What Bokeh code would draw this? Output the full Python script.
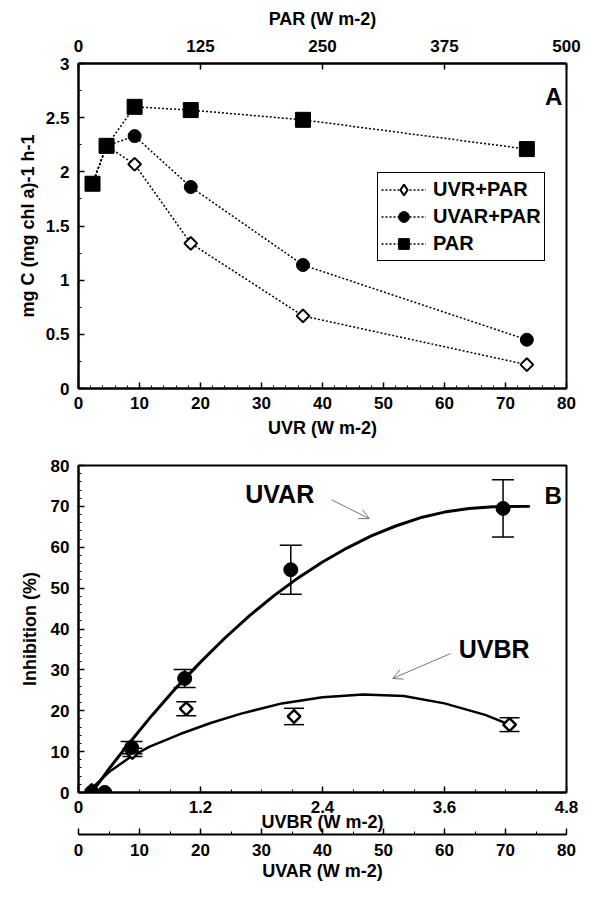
import numpy as np
from bokeh.plotting import figure
from bokeh.layouts import column
from bokeh.models import (Range1d, LinearAxis, FixedTicker, SingleIntervalTicker, Legend,
                          LegendItem, Whisker, TeeHead, ColumnDataSource, Label, Arrow, OpenHead)
from bokeh.embed import file_html
from bokeh.resources import INLINE

# ---------------- Panel A data ----------------
uvr = [2.3, 4.6, 9.2, 18.4, 36.8, 73.5]
uvr_par = [1.89, 2.24, 2.07, 1.34, 0.67, 0.22]
uvar_par = [1.89, 2.24, 2.33, 1.86, 1.14, 0.45]
par_only = [1.89, 2.24, 2.60, 2.57, 2.48, 2.21]
a_y_ticks = [0, 0.5, 1, 1.5, 2, 2.5, 3]
a_y_labels = ["0", "0.5", "1", "1.5", "2", "2.5", "3"]
a_par_ticks = [0, 125, 250, 375, 500]
a_legend = ["UVR+PAR", "UVAR+PAR", "PAR"]

# ---------------- Panel B data ----------------
uvbr_x = [0.13, 0.26, 0.53, 1.06, 2.12, 4.24]
uvbr_inhib = [0.5, 0.0, 9.8, 20.5, 18.6, 16.6]
uvbr_err = [0.0, 0.0, 1.0, 1.7, 2.0, 1.7]
uvar_x = [2.2, 4.3, 8.7, 17.4, 34.8, 69.6]
uvar_inhib = [0.0, 0.0, 11.0, 27.9, 54.5, 69.5]
uvar_err = [0.0, 0.0, 1.5, 2.2, 6.0, 7.0]
uvar_fit_x = [2.2, 5, 8, 12, 16, 20, 24, 28, 32, 36, 40, 44, 48, 52, 56, 60, 64, 68, 74]
uvar_fit_y = [0, 5.8, 11.5, 18.8, 25.6, 31.9, 37.8, 43.2, 48.1, 52.5, 56.4, 59.8, 62.8,
              65.2, 67.2, 68.6, 69.5, 69.9, 70.0]
uvbr_fit_x = [0.13, 0.3, 0.5, 0.7, 1.0, 1.3, 1.6, 2.0, 2.4, 2.8, 3.2, 3.6, 4.0, 4.24]
uvbr_fit_y = [1.0, 5.0, 8.5, 11.2, 14.3, 17.0, 19.3, 21.8, 23.3, 24.0, 23.6, 21.8, 19.0, 16.6]
b_uvbr_ticks = [0, 1.2, 2.4, 3.6, 4.8]
b_uvbr_labels = ["0", "1.2", "2.4", "3.6", "4.8"]

# annotation positions (data units of panel B: UVBR, %)
uvar_text_pos = (1.64, 73.0)
uvbr_text_pos = (3.74, 35.0)
uvar_arrow = (2.49, 71.6, 2.86, 67.0)
uvbr_arrow = (3.66, 34.0, 3.09, 27.9)
a_text_pos = (77.9, 2.70)
b_text_pos = (4.67, 72.6)

FONT = "Liberation Sans"


def style_axis(ax, label_size="17px", title_size="18px"):
    ax.axis_line_width = 2
    ax.axis_line_color = "black"
    ax.major_tick_in = 6
    ax.major_tick_out = 0
    ax.minor_tick_in = 3
    ax.minor_tick_out = 0
    ax.major_tick_line_width = 1.5
    ax.minor_tick_line_width = 1
    ax.major_tick_line_color = "black"
    ax.minor_tick_line_color = "black"
    ax.major_label_text_font = FONT
    ax.major_label_text_font_style = "bold"
    ax.major_label_text_font_size = label_size
    ax.major_label_text_color = "black"
    ax.axis_label_text_font = FONT
    ax.axis_label_text_font_style = "bold"
    ax.axis_label_text_font_size = title_size
    ax.axis_label_text_color = "black"


def style_fig(p):
    p.grid.visible = False
    p.outline_line_color = "black"
    p.outline_line_width = 2
    p.outline_line_alpha = 1
    p.background_fill_color = "white"
    p.border_fill_color = "white"


def text_label(x, y, text, size, align="left"):
    return Label(x=x, y=y, text=text, text_align=align, text_baseline="middle",
                 text_font=FONT, text_font_style="bold", text_font_size=size,
                 text_color="black")


# ================= Panel A =================
pa = figure(width=596, height=450, x_range=Range1d(0, 80), y_range=Range1d(0, 3),
            output_backend="svg", toolbar_location=None,
            min_border_left=78, min_border_right=30, min_border_top=63, min_border_bottom=62)
style_fig(pa)
pa.extra_x_ranges = {"par": Range1d(0, 500)}

xa = pa.xaxis[0]
xa.ticker = SingleIntervalTicker(interval=10, num_minor_ticks=5)
xa.axis_label = "UVR (W m-2)"
style_axis(xa)
xa.major_label_standoff = 8
xa.axis_label_standoff = 6

ya = pa.yaxis[0]
ya.ticker = SingleIntervalTicker(interval=0.5, num_minor_ticks=2)
ya.major_label_overrides = {t: l for t, l in zip(a_y_ticks, a_y_labels)}
ya.axis_label = "mg C (mg chl a)-1 h-1"
style_axis(ya)
ya.major_label_standoff = 9
ya.axis_label_standoff = 5

top = LinearAxis(x_range_name="par", ticker=FixedTicker(ticks=a_par_ticks), axis_label="PAR (W m-2)")
style_axis(top)
top.major_label_standoff = 12
top.axis_label_standoff = 8
pa.add_layout(top, "above")

r1l = pa.line(uvr, uvr_par, line_dash="2 2", line_width=1.5, color="black")
r2l = pa.line(uvr, uvar_par, line_dash="2 2", line_width=1.5, color="black")
r3l = pa.line(uvr, par_only, line_dash="2 2", line_width=1.5, color="black")
r1 = pa.scatter(uvr, uvr_par, marker="square", angle=np.pi / 4, size=9,
                fill_color="white", line_color="black", line_width=2)
r2 = pa.scatter(uvr, uvar_par, marker="circle", size=13, fill_color="black", line_color="black")
r3 = pa.scatter(uvr, par_only, marker="square", size=15, fill_color="black", line_color="black")
# legend-only proxy (no visible point) so that the legend shows a diamond
r1_leg = pa.scatter(x=np.array([np.nan]), y=np.array([np.nan]), marker="diamond", size=15,
                    fill_color="white", line_color="black", line_width=2)

legend = Legend(items=[LegendItem(label=a_legend[0], renderers=[r1l, r1_leg]),
                       LegendItem(label=a_legend[1], renderers=[r2l, r2]),
                       LegendItem(label=a_legend[2], renderers=[r3l, r3])],
                location=(299, 127))
legend.border_line_color = "black"
legend.border_line_width = 1.5
legend.border_line_alpha = 1
legend.background_fill_alpha = 1
legend.label_text_font = FONT
legend.label_text_font_style = "bold"
legend.label_text_font_size = "20px"
legend.label_text_color = "black"
legend.glyph_width = 45
legend.glyph_height = 27
legend.label_height = 20
legend.spacing = 0
legend.padding = 3
legend.margin = 0
legend.label_standoff = 7
pa.add_layout(legend)

pa.add_layout(text_label(a_text_pos[0], a_text_pos[1], "A", "24px", "center"))

# ================= Panel B =================
pb = figure(width=596, height=447, x_range=Range1d(0, 4.8), y_range=Range1d(0, 80),
            output_backend="svg", toolbar_location=None,
            min_border_left=78, min_border_right=30, min_border_top=15, min_border_bottom=105)
style_fig(pb)
pb.extra_x_ranges = {"uvar": Range1d(0, 80)}

xb = pb.xaxis[0]
xb.ticker = FixedTicker(ticks=b_uvbr_ticks, minor_ticks=list(np.arange(0, 4.81, 0.3)))
xb.major_label_overrides = {t: l for t, l in zip(b_uvbr_ticks, b_uvbr_labels)}
xb.axis_label = "UVBR (W m-2)"
style_axis(xb)
xb.major_label_standoff = 8
xb.axis_label_standoff = -4

yb = pb.yaxis[0]
yb.ticker = SingleIntervalTicker(interval=10, num_minor_ticks=5)
yb.axis_label = "Inhibition (%)"
style_axis(yb)
yb.major_label_standoff = 9
yb.axis_label_standoff = 8

xb2 = LinearAxis(x_range_name="uvar", ticker=SingleIntervalTicker(interval=10, num_minor_ticks=2),
                 axis_label="UVAR (W m-2)")
style_axis(xb2)
xb2.major_label_standoff = 9
xb2.axis_label_standoff = 2
pb.add_layout(xb2, "below")

pb.line(uvar_fit_x, uvar_fit_y, x_range_name="uvar", line_width=3, color="black")
pb.line(uvbr_fit_x, uvbr_fit_y, line_width=2.5, color="black")

pb.scatter(uvbr_x, uvbr_inhib, marker="square", angle=np.pi / 4, size=9,
           fill_color="white", line_color="black", line_width=2.5)
pb.scatter(uvar_x, uvar_inhib, x_range_name="uvar", marker="circle", size=14,
           fill_color="black", line_color="black")

uvar_x_a = np.array(uvar_x)
uvar_y_a = np.array(uvar_inhib)
uvar_e_a = np.array(uvar_err)
m1 = uvar_e_a > 0
src_c = ColumnDataSource(dict(x=uvar_x_a[m1], upper=(uvar_y_a + uvar_e_a)[m1],
                              lower=(uvar_y_a - uvar_e_a)[m1]))
uvbr_x_a = np.array(uvbr_x)
uvbr_y_a = np.array(uvbr_inhib)
uvbr_e_a = np.array(uvbr_err)
m2 = uvbr_e_a > 0
src_d = ColumnDataSource(dict(x=uvbr_x_a[m2], upper=(uvbr_y_a + uvbr_e_a)[m2],
                              lower=(uvbr_y_a - uvbr_e_a)[m2]))

pb.add_layout(Whisker(source=src_c, base="x", upper="upper", lower="lower", dimension="height",
                      x_range_name="uvar", line_width=1.5, line_color="black",
                      upper_head=TeeHead(size=22, line_width=1.5, line_color="black"),
                      lower_head=TeeHead(size=22, line_width=1.5, line_color="black")))
pb.add_layout(Whisker(source=src_d, base="x", upper="upper", lower="lower", dimension="height",
                      line_width=1.5, line_color="black",
                      upper_head=TeeHead(size=20, line_width=1.5, line_color="black"),
                      lower_head=TeeHead(size=20, line_width=1.5, line_color="black")))

pb.add_layout(text_label(uvar_text_pos[0], uvar_text_pos[1], "UVAR", "25px"))
pb.add_layout(text_label(uvbr_text_pos[0], uvbr_text_pos[1], "UVBR", "25px"))
pb.add_layout(text_label(b_text_pos[0], b_text_pos[1], "B", "24px", "center"))
pb.add_layout(Arrow(end=OpenHead(size=10, line_color="#777777", line_width=1),
                    x_start=uvar_arrow[0], y_start=uvar_arrow[1],
                    x_end=uvar_arrow[2], y_end=uvar_arrow[3],
                    line_color="#777777", line_width=1))
pb.add_layout(Arrow(end=OpenHead(size=10, line_color="#777777", line_width=1),
                    x_start=uvbr_arrow[0], y_start=uvbr_arrow[1],
                    x_end=uvbr_arrow[2], y_end=uvbr_arrow[3],
                    line_color="#777777", line_width=1))

layout = column(pa, pb, spacing=0)
open("out.html", "w").write(file_html(layout, INLINE))
